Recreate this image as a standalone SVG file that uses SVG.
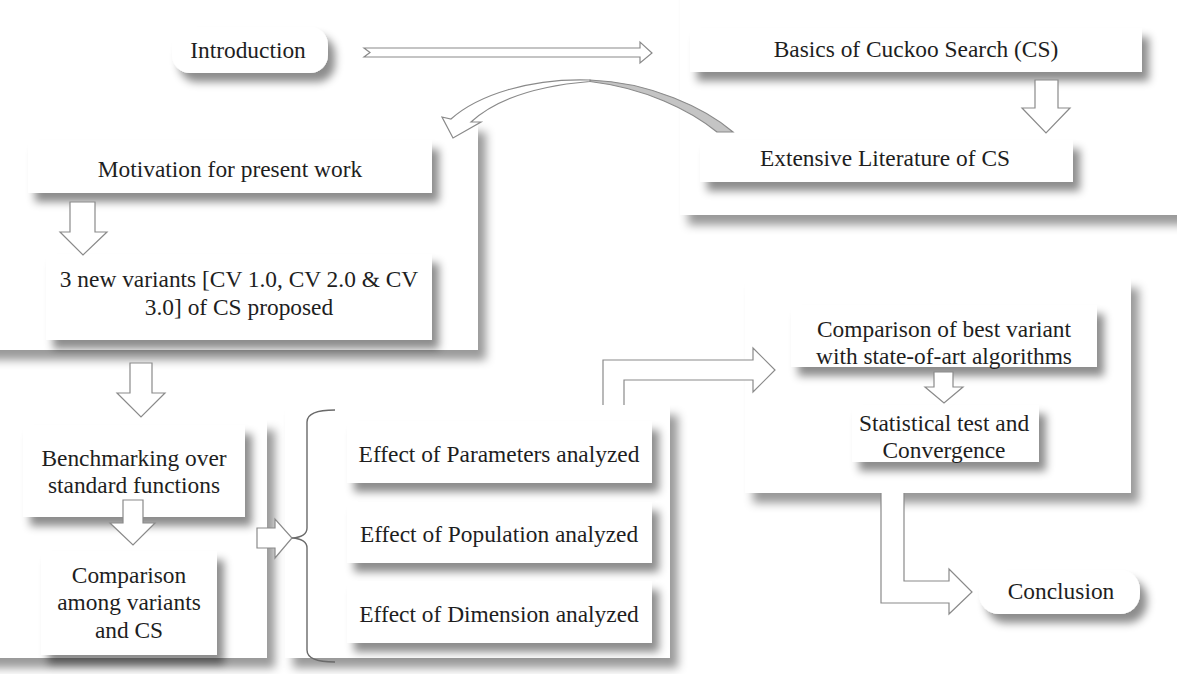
<svg xmlns="http://www.w3.org/2000/svg" width="1177" height="674" viewBox="0 0 1177 674">
<defs>
<filter id="sh" x="-10%" y="-30%" width="125%" height="190%">
<feDropShadow dx="7" dy="9" stdDeviation="4.5" flood-color="#000" flood-opacity="0.45"/>
</filter>
<filter id="shc" x="-10%" y="-10%" width="125%" height="130%">
<feDropShadow dx="8" dy="10" stdDeviation="5" flood-color="#000" flood-opacity="0.4"/>
</filter>
</defs>
<style>
.box{fill:#fff;filter:url(#sh)}
.cont{fill:#fff;filter:url(#shc)}
.t{font-family:"Liberation Serif","Times New Roman","DejaVu Serif",serif;font-size:23.4px;fill:#1e1e1e;text-anchor:middle}
.arr{fill:#fff;stroke:#8a8a8a;stroke-width:1.2;stroke-linejoin:miter}
.brace{fill:none;stroke:#6a6a6a;stroke-width:1.4}
</style>
<rect width="1177" height="674" fill="#fff"/>

<g id="containers">
<rect class="cont" x="680" y="-40" width="540" height="255"/>
<rect class="cont" x="-30" y="122" width="508" height="228"/>
<rect class="cont" x="-30" y="420" width="297" height="238"/>
<rect class="cont" x="285" y="405" width="385" height="253"/>
<rect class="cont" x="745" y="278" width="386" height="215"/>
</g>

<g id="introduction">
<rect class="box" x="172" y="27" width="156" height="46" rx="18"/>
<text class="t" x="248" y="58">Introduction</text>
</g>
<g id="basics">
<rect class="box" x="690" y="28" width="452" height="44"/>
<text class="t" x="916" y="57">Basics of Cuckoo Search (CS)</text>
</g>
<g id="literature">
<rect class="box" x="700" y="140" width="373" height="42"/>
<text class="t" x="885" y="166">Extensive Literature of CS</text>
</g>
<g id="motivation">
<rect class="box" x="28" y="140" width="404" height="53"/>
<text class="t" x="230" y="177">Motivation for present work</text>
</g>
<g id="variants">
<rect class="box" x="46" y="254" width="386" height="86"/>
<text class="t" x="239" y="287">3 new variants [CV 1.0, CV 2.0 &amp; CV</text>
<text class="t" x="239" y="315">3.0] of CS proposed</text>
</g>
<g id="benchmarking">
<rect class="box" x="23" y="425" width="222" height="92"/>
<text class="t" x="134" y="466">Benchmarking over</text>
<text class="t" x="134" y="493">standard functions</text>
</g>
<g id="comparison-variants">
<rect class="box" x="41" y="551" width="176" height="104"/>
<text class="t" x="129" y="583">Comparison</text>
<text class="t" x="129" y="610">among variants</text>
<text class="t" x="129" y="638">and CS</text>
</g>
<g id="effect-parameters">
<rect class="box" x="347" y="421" width="305" height="62"/>
<text class="t" x="499" y="462">Effect of Parameters analyzed</text>
</g>
<g id="effect-population">
<rect class="box" x="347" y="502" width="305" height="61"/>
<text class="t" x="499" y="542">Effect of Population analyzed</text>
</g>
<g id="effect-dimension">
<rect class="box" x="347" y="581" width="305" height="62"/>
<text class="t" x="499" y="622">Effect of Dimension analyzed</text>
</g>
<g id="comparison-best">
<rect class="box" x="791" y="305" width="306" height="62"/>
<text class="t" x="944" y="337">Comparison of best variant</text>
<text class="t" x="944" y="364">with state-of-art algorithms</text>
</g>
<g id="statistical">
<rect class="box" x="852" y="405" width="187" height="57"/>
<text class="t" x="944" y="431">Statistical test and</text>
<text class="t" x="944" y="458">Convergence</text>
</g>
<g id="conclusion">
<rect class="box" x="979" y="570" width="161" height="44" rx="20"/>
<text class="t" x="1061" y="599">Conclusion</text>
</g>

<g id="connectors">
<path class="arr" d="M364,48 L640,48 L640,42 L652,53 L640,63 L640,57 L364,57 L370,52.5 Z"/>
<path class="arr" d="M1035,80 L1058,80 L1058,108 L1070,108 L1046,133 L1022,108 L1035,108 Z"/>
<path d="M590,80 C650,82 705,108 733,132 L717,132 C690,110 645,88 590,81.5 Z" fill="#c4c4c4" stroke="#8a8a8a" stroke-width="1.2"/>
<path class="arr" d="M590,80 C530,78 478,95 451,119 L442,117 L453,138 L481,122 L471,122 C495,100 535,86 590,81.5 Z"/>
<path class="arr" d="M70,202 L95,202 L95,232 L107,232 L83,255 L60,232 L70,232 Z"/>
<path class="arr" d="M130,363 L152,363 L152,393 L165,393 L141,417 L117,393 L130,393 Z"/>
<path class="arr" d="M123,500 L143,500 L143,523 L155,523 L133,545 L110,523 L123,523 Z"/>
<path class="arr" d="M257,528 L275,528 L275,519 L292,538 L275,558 L275,548 L257,548 Z"/>
<path class="brace" d="M335,410 Q307,410 307,422 L307,528 Q307,537 292,538 Q307,539 307,548 L307,650 Q307,662 335,662"/>
<path class="arr" d="M603,405 L603,360 L753,360 L753,348 L775,370 L753,392 L753,380 L624,380 L624,405"/>
<path class="arr" d="M934,372 L953,372 L953,387 L963,387 L944,403 L925,387 L934,387 Z"/>
<path class="arr" d="M881,493 L881,603 L949,603 L949,614 L972,592 L949,569 L949,581 L904,581 L904,493"/>
</g>
</svg>
